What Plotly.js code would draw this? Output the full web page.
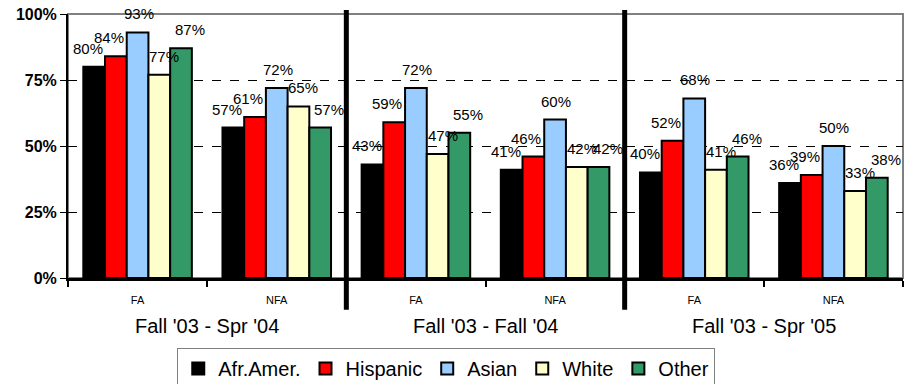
<!DOCTYPE html>
<html>
<head>
<meta charset="utf-8">
<script src="https://cdn.plot.ly/plotly-3.0.1.min.js"></script>
<style>html,body{margin:0;padding:0;background:#fff;}#chart{width:914px;height:384px;}</style>
</head>
<body>
<div id="chart"></div>
<script>
// ---- data ----
const categories = ["FA", "NFA", "FA", "NFA", "FA", "NFA"];
const groups = ["Fall '03 - Spr '04", "Fall '03 - Fall '04", "Fall '03 - Spr '05"];
const seriesNames = ["Afr.Amer.", "Hispanic", "Asian", "White", "Other"];
const afrAmer  = [0.80, 0.57, 0.43, 0.41, 0.40, 0.36];
const hispanic = [0.84, 0.61, 0.59, 0.46, 0.52, 0.39];
const asian    = [0.93, 0.72, 0.72, 0.60, 0.68, 0.50];
const white    = [0.77, 0.65, 0.47, 0.42, 0.41, 0.33];
const other    = [0.87, 0.57, 0.55, 0.42, 0.46, 0.38];
const yTicks = [0, 0.25, 0.5, 0.75, 1];

// ---- style ----
const colors = ["#000000", "#FF0000", "#99CCFF", "#FFFFCC", "#339966"];
const labelXShift = [-6, -7, 1, 5, 9];
const FONT = "Liberation Sans, Arial, sans-serif";
const bargap = 0.22;

const seriesValues = [afrAmer, hispanic, asian, white, other];
const xIdx = categories.map((c, i) => i);

const traces = seriesValues.map((vals, s) => ({
  type: "bar",
  name: seriesNames[s],
  x: xIdx,
  y: vals,
  marker: { color: colors[s], line: { color: "#000", width: 2 } },
  hoverinfo: "skip"
}));

const nS = seriesValues.length;
const barW = (1 - bargap) / nS;
const annotations = [];
seriesValues.forEach((vals, s) => {
  vals.forEach((v, j) => {
    annotations.push({
      x: j + (s - (nS - 1) / 2) * barW, y: v, xref: "x", yref: "y",
      text: Math.round(v * 100) + "%", showarrow: false,
      yanchor: "bottom", yshift: 8, xshift: labelXShift[s],
      font: { family: FONT, size: 15, color: "#000" }
    });
  });
});
groups.forEach((g, k) => {
  annotations.push({
    x: 2 * k + 0.5, y: -0.18, xref: "x", yref: "paper",
    text: g, showarrow: false, yanchor: "middle",
    font: { family: FONT, size: 20, color: "#000" }
  });
});

const shapes = [
  { type: "rect", xref: "paper", yref: "paper", x0: 0, x1: 1, y0: 0, y1: 1,
    line: { color: "#808080", width: 2 }, layer: "below" }
];
for (let k = 1; k < groups.length; k++) {
  shapes.push({ type: "line", xref: "x", yref: "paper",
    x0: 2 * k - 0.5, x1: 2 * k - 0.5, y0: -0.12, y1: 1.015,
    line: { color: "#000", width: 5 } });
}

const layout = {
  width: 914, height: 384,
  margin: { l: 68, r: 11, t: 14, b: 106, autoexpand: false },
  paper_bgcolor: "#fff", plot_bgcolor: "#fff",
  barmode: "group", bargap: bargap, bargroupgap: 0,
  showlegend: true,
  legend: {
    orientation: "h", x: 0.453, xanchor: "center", y: -0.265, yanchor: "top",
    font: { family: FONT, size: 20, color: "#000" },
    bordercolor: "#808080", borderwidth: 1, bgcolor: "#fff",
    itemwidth: 30, traceorder: "normal"
  },
  xaxis: {
    range: [-0.5, categories.length - 0.5],
    tickmode: "array", tickvals: xIdx, ticktext: categories,
    ticks: "", ticklabelstandoff: 10,
    tickfont: { family: FONT, size: 11, color: "#000" },
    showline: true, linecolor: "#000", linewidth: 3,
    showgrid: false, zeroline: false,
    minor: { tick0: -0.5, dtick: 1, ticks: "outside", ticklen: 6, tickwidth: 2, tickcolor: "#000", showgrid: false },
    fixedrange: true
  },
  yaxis: {
    range: [0, 1], tickmode: "array", tickvals: yTicks, tickformat: ".0%",
    tickfont: { family: FONT, size: 16, color: "#000", weight: "bold" },
    ticks: "outside", ticklen: 6, tickcolor: "#000", tickwidth: 1,
    showline: true, linecolor: "#000", linewidth: 2,
    showgrid: true, gridcolor: "#000", gridwidth: 1, griddash: "dash",
    zeroline: false, fixedrange: true
  },
  annotations: annotations,
  shapes: shapes
};

Plotly.newPlot("chart", traces, layout, { displayModeBar: false, staticPlot: true });
</script>
</body>
</html>
